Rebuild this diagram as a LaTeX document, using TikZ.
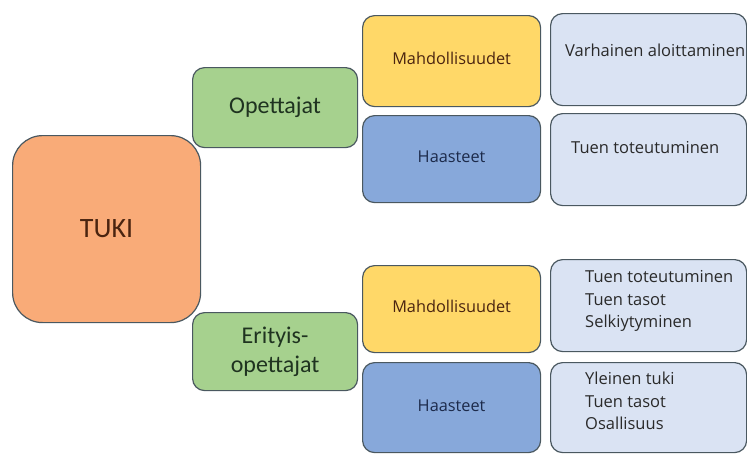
\documentclass[tikz,border=0pt]{standalone}
\usepackage{fontspec}
\setmainfont{Open Sans}
\newfontfamily\calib{Carlito}
\definecolor{orangefill}{HTML}{F9AB78}
\definecolor{greenfill}{HTML}{A6D18E}
\definecolor{yellowfill}{HTML}{FFD868}
\definecolor{bluefill}{HTML}{87A8DA}
\definecolor{lightfill}{HTML}{DAE3F3}
\definecolor{edgecol}{HTML}{4A5860}
\definecolor{txtdark}{HTML}{2A2A2A}
\definecolor{txtgreen}{HTML}{1F3320}
\definecolor{txtbrown}{HTML}{4A2410}
\definecolor{txtnavy}{HTML}{1C2A4A}
\begin{document}
\begin{tikzpicture}[x=1pt,y=-1pt,
  box/.style={draw=edgecol,line width=1.2pt,anchor=north west,inner sep=0pt},
  maintxt/.style={font=\calib\fontsize{28}{30}\selectfont,text=txtbrown},
  grouptxt/.style={font=\calib\fontsize{24}{29}\selectfont,text=txtgreen,align=center},
  cattxt/.style={font=\fontsize{16.3}{19}\selectfont},
  itemtxt/.style={font=\fontsize{16.5}{22.5}\selectfont,text=txtdark,anchor=west,align=left,inner sep=0pt}
]
\clip (0,0) rectangle (747,453);
\useasboundingbox (0,0) rectangle (747,453);
\fill[white] (0,0) rectangle (747,453);

% main
\node[box,fill=orangefill,rounded corners=30pt,minimum width=188pt,minimum height=187pt] (tuki) at (12,135) {};
\node[maintxt] (tukit) at (tuki.center) {TUKI};

% groups
\node[box,fill=greenfill,rounded corners=12pt,minimum width=165pt,minimum height=80pt] (opet) at (192,67) {};
\node[grouptxt] (opett) at (opet.center) {Opettajat};
\node[box,fill=greenfill,rounded corners=12pt,minimum width=165pt,minimum height=78pt] (erit) at (192,312) {};
\node[grouptxt] (eritt) at (erit.center) {Erityis-\\opettajat};

% categories
\node[box,fill=yellowfill,rounded corners=12pt,minimum width=178pt,minimum height=91pt] (m1) at (362,15) {};
\node[cattxt,text=txtbrown] (m1t) at ([yshift=3pt]m1.center) {Mahdollisuudet};
\node[box,fill=bluefill,rounded corners=12pt,minimum width=178pt,minimum height=87pt] (h1) at (362,115) {};
\node[cattxt,text=txtnavy] (h1t) at ([yshift=2pt]h1.center) {Haasteet};
\node[box,fill=yellowfill,rounded corners=12pt,minimum width=178pt,minimum height=87pt] (m2) at (362,265) {};
\node[cattxt,text=txtbrown] (m2t) at ([yshift=3pt]m2.center) {Mahdollisuudet};
\node[box,fill=bluefill,rounded corners=12pt,minimum width=178pt,minimum height=90pt] (h2) at (362,362) {};
\node[cattxt,text=txtnavy] (h2t) at ([yshift=2pt]h2.center) {Haasteet};

% items
\node[box,fill=lightfill,rounded corners=12pt,minimum width=196pt,minimum height=92pt] (r1) at (550,13) {};
\node[itemtxt] (r1t) at (565,50) {Varhainen aloittaminen};
\node[box,fill=lightfill,rounded corners=12pt,minimum width=196pt,minimum height=92pt] (r2) at (550,113) {};
\node[itemtxt] (r2t) at (571,148) {Tuen toteutuminen};
\node[box,fill=lightfill,rounded corners=12pt,minimum width=196pt,minimum height=92pt] (r3) at (550,259) {};
\node[itemtxt] (r3t) at (585,301) {Tuen toteutuminen\\Tuen tasot\\Selkiytyminen};
\node[box,fill=lightfill,rounded corners=12pt,minimum width=196pt,minimum height=90pt] (r4) at (550,362) {};
\node[itemtxt] (r4t) at (585,401) {Yleinen tuki\\Tuen tasot\\Osallisuus};
\end{tikzpicture}
\end{document}
